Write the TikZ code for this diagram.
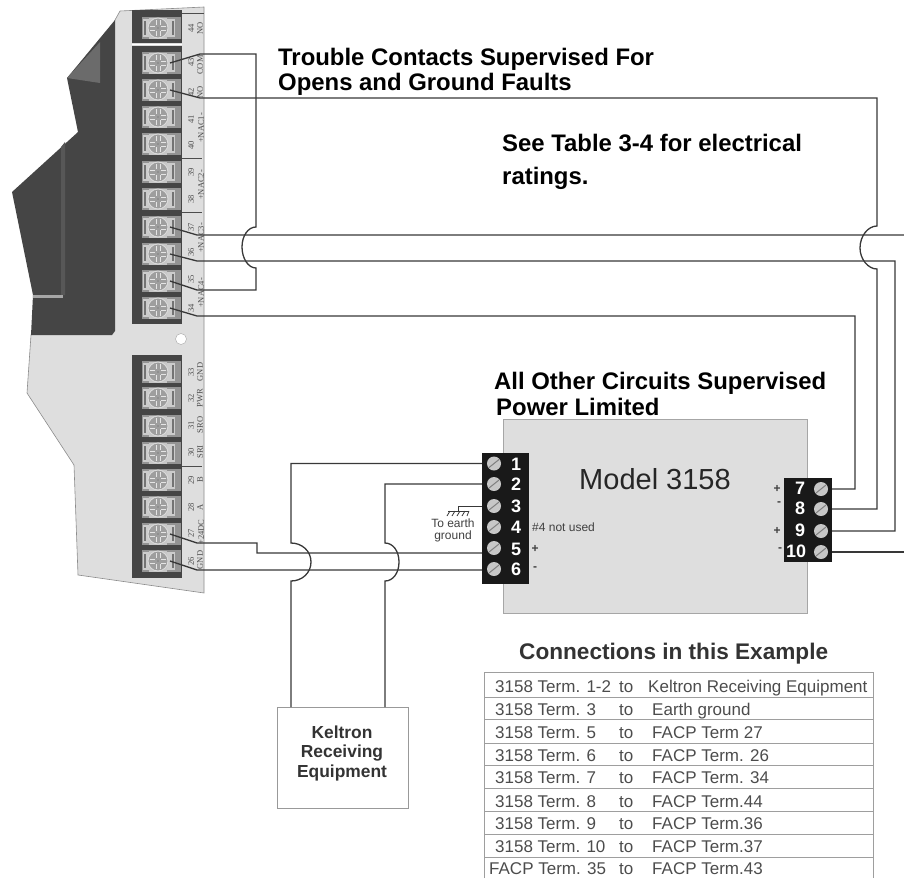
\documentclass[tikz,border=0pt]{standalone}
\usepackage{fontspec}
\setmainfont{Liberation Sans}
\newfontfamily\termfont{Liberation Serif}
\usetikzlibrary{calc}
\definecolor{panelgray}{gray}{0.87}
\definecolor{paneldark}{gray}{0.27}
\definecolor{wiregray}{gray}{0.22}
\definecolor{rulegray}{gray}{0.62}
\definecolor{tablegray}{gray}{0.30}
\tikzset{
	wire/.style={line width=1.3pt, color=wiregray},
	heading/.style={anchor=base west, inner sep=0pt, font=\fontsize{23.9}{24}\bfseries\selectfont},
	tablecell/.style={anchor=base west, inner sep=0pt, color=tablegray, font=\fontsize{17}{17}\selectfont},
	termlabel/.style={rotate=90, inner sep=0pt, color=black!70, font=\fontsize{8.5}{9}\termfont\selectfont},
	blocklabel/.style={inner sep=0pt, color=white, font=\fontsize{18}{18}\bfseries\selectfont},
	signlabel/.style={inner sep=0pt, color=black!75, font=\fontsize{12}{12}\bfseries\selectfont},
	smalllabel/.style={inner sep=0pt, color=black!75, font=\fontsize{12}{12}\selectfont, align=center}
}
\def\fterm(#1)#2{
	\begin{scope}[shift={(158,#1)}]
		\fill[black!42] (-16, -11) rectangle (23, 11);
		\fill[black!20] (-15, -9) rectangle (17, 9);
		\fill[black!55] (-14, -7) rectangle (-12, 7);
		\fill[black!55] (14, -7) rectangle (16, 7);
		\fill[black!22] (-9, -10.5) rectangle (9, 10.5);
		\draw[fill=black!38, draw=black!14, line width=0.9pt] (0, 0) circle (10);
		\draw[line width=0.9pt, color=black!10] (-8, -2) -- (-3, -2) (-8, 2) -- (-3, 2) (3, -2) -- (8, -2) (3, 2) -- (8, 2) (-2, -8) -- (-2, -3) (2, -8) -- (2, -3) (-2, 3) -- (-2, 8) (2, 3) -- (2, 8);
		\fill[black!50] (0, 0) circle (0.9);
		\coordinate (#2) at (12, 0);
	\end{scope}
}
\def\blockscrew(#1,#2)#3{
	\draw[fill=black!22, draw=none] (#1, #2) circle (7);
	\draw[line width=1pt, color=black!50] ($(#1, #2)+(-5, 4)$) -- ($(#1, #2)+(5, -4)$);
	\coordinate (#3) at (#1, #2);
}
\def\connrow(#1)#2#3#4#5{
	\node[tablecell] (row#1a) at (#2, #1) {#3};
	\node[tablecell] (row#1b) at (619, #1) {to};
	\node[tablecell] (row#1c) at (#4, #1) {#5};
}

\begin{document}
\begin{tikzpicture}[x=1pt, y=-1pt]
		%%%%% START %%%%%
		\useasboundingbox (0, 0) rectangle (904, 878);

		% panel
		\draw[fill=panelgray, draw=black!45, line width=0.6pt] (120, 11) -- (204, 7) -- (204, 593) -- (78, 575) -- (74, 465) -- (27, 393) -- (31, 335) -- (115, 20) -- cycle;
		\fill[paneldark] (115, 20) -- (67, 78) -- (78, 132) -- (12, 192) -- (33, 295) -- (31, 335) -- (112, 335) -- (115, 331) -- cycle;
		\fill[black!58] (100, 42) -- (67, 78) -- (100, 83) -- cycle;
		\fill[black!66] (61, 147) -- (65, 142) -- (65, 295) -- (61, 295) -- cycle;
		\fill[black!35] (33, 295) rectangle (63, 298);
		\draw[fill=white, draw=black!35] (181, 339) circle (5.5);

		% terminal strips
		\fill[paneldark] (132, 10) rectangle (182, 43);
		\fill[paneldark] (132, 46) rectangle (182, 324);
		\fill[paneldark] (132, 355) rectangle (182, 578);

		\fterm(28){t44}
		\fterm(63){t43}
		\fterm(90){t42}
		\fterm(117){t41}
		\fterm(144){t40}
		\fterm(172){t39}
		\fterm(199){t38}
		\fterm(227){t37}
		\fterm(254){t36}
		\fterm(281){t35}
		\fterm(308){t34}
		\fterm(372){t33}
		\fterm(398){t32}
		\fterm(426){t31}
		\fterm(453){t30}
		\fterm(480){t29}
		\fterm(507){t28}
		\fterm(534){t27}
		\fterm(561){t26}

		\draw[line width=0.7pt, color=black!70] (182, 13) -- (204, 13);
		\draw[line width=0.7pt, color=black!70] (182, 158) -- (202, 158);
		\draw[line width=0.7pt, color=black!70] (182, 212) -- (202, 212);
		\draw[line width=0.7pt, color=black!70] (182, 466) -- (202, 466);
		\draw[line width=1pt, color=white] (132, 44.5) -- (182, 44.5);

		% terminal numbers and names
		\node[termlabel] (n44) at (191, 28) {44};
		\node[termlabel] (n43) at (191, 62) {43};
		\node[termlabel] (n42) at (191, 92) {42};
		\node[termlabel] (n41) at (191, 119) {41};
		\node[termlabel] (n40) at (191, 145) {40};
		\node[termlabel] (n39) at (191, 172) {39};
		\node[termlabel] (n38) at (191, 199) {38};
		\node[termlabel] (n37) at (191, 227) {37};
		\node[termlabel] (n36) at (191, 252) {36};
		\node[termlabel] (n35) at (191, 279) {35};
		\node[termlabel] (n34) at (191, 308) {34};
		\node[termlabel] (n33) at (191, 372) {33};
		\node[termlabel] (n32) at (191, 398) {32};
		\node[termlabel] (n31) at (191, 425) {31};
		\node[termlabel] (n30) at (191, 452) {30};
		\node[termlabel] (n29) at (191, 480) {29};
		\node[termlabel] (n28) at (191, 507) {28};
		\node[termlabel] (n27) at (191, 533) {27};
		\node[termlabel] (n26) at (191, 561) {26};
		\node[termlabel] (s44) at (200, 28) {NO};
		\node[termlabel] (s43) at (200, 65) {COM};
		\node[termlabel] (s42) at (200, 92) {NO};
		\node[termlabel] (s41) at (201, 128) {+NAC1-};
		\node[termlabel] (s39) at (201, 185) {+NAC2-};
		\node[termlabel] (s37) at (201, 238) {+NAC3-};
		\node[termlabel] (s35) at (201, 293) {+NAC4-};
		\node[termlabel] (s33) at (200, 372) {GND};
		\node[termlabel] (s32) at (200, 398) {PWR};
		\node[termlabel] (s31) at (200, 425) {SRO};
		\node[termlabel] (s30) at (200, 452) {SRI};
		\node[termlabel] (s29) at (200, 480) {B};
		\node[termlabel] (s28) at (200, 507) {A};
		\node[termlabel] (s27) at (201, 532) {+24DC};
		\node[termlabel] (s26) at (200, 560) {GND};

		% model 3158
		\draw[fill=black!13, draw=black!35, line width=0.8pt] (503, 419) rectangle (807, 613);
		\node[inner sep=0pt, color=black!85, font=\fontsize{29}{29}\selectfont] (model) at (655, 479) {Model 3158};

		% keltron
		\draw[draw=black!40, line width=1pt] (277, 707) rectangle (408, 808);
		\node[inner sep=0pt, align=center, color=black!80, font=\fontsize{17.4}{19.5}\bfseries\selectfont] (keltron) at (342, 753) {Keltron\\Receiving\\Equipment};
		\coordinate (k1) at (291, 707);
		\coordinate (k2) at (385, 707);

		% block coordinates
		\coordinate (a1) at (494, 463.5);
		\coordinate (a2) at (494, 484);
		\coordinate (a3) at (494, 506);
		\coordinate (a5) at (494, 553);
		\coordinate (a6) at (494, 570);
		\coordinate (b7) at (821, 489);
		\coordinate (b8) at (821, 509);
		\coordinate (b9) at (821, 531);
		\coordinate (b10) at (821, 552);
		\coordinate (edge) at (904, 235);
		\coordinate (edgeb) at (904, 552);
		\coordinate (earth) at (458, 511);

		% wires
		\draw[wire] (t43) -- (200, 54) -- (256, 54) -- (256, 227) .. controls +(-8, 0) and +(0, -11) .. (242, 247) .. controls +(0, 11) and +(-8, 0) .. (256, 268) -- (256, 290) -- (197, 290) -- (t35);
		\draw[wire] (t42) -- (200, 98) -- (877, 98) -- (877, 226) .. controls +(-9, 0) and +(0, -12) .. (860, 248) .. controls +(0, 11) and +(-9, 0) .. (877, 269) -- (877, 509) -- (b8);
		\draw[wire] (t37) -- (197, 235) -- (edge);
		\draw[wire] (t36) -- (197, 261) -- (895, 261) -- (895, 531) -- (b9);
		\draw[wire] (t34) -- (197, 316) -- (855, 316) -- (855, 489) -- (b7);
		\draw[wire] (b10) -- (edgeb);
		\draw[wire] (t27) -- (197, 543) -- (257, 543) -- (257, 553) -- (a5);
		\draw[wire] (t26) -- (197, 570) -- (a6);
		\draw[wire] (a1) -- (291, 463.5) -- (291, 543) .. controls +(11, 0) and +(0, -11) .. (311, 562) .. controls +(0, 11) and +(11, 0) .. (291, 581) -- (k1);
		\draw[wire] (a2) -- (385, 484) -- (385, 543) .. controls +(8, 0) and +(0, -11) .. (399, 562) .. controls +(0, 11) and +(8, 0) .. (385, 581) -- (k2);
		\draw[wire, line width=0.8pt] (a3) -- (458, 506) -- (earth);
		\draw[line width=0.8pt, color=wiregray] (448, 511) -- (469, 511);
		\draw[line width=0.8pt, color=wiregray] (450, 511) -- (447, 516) (455, 511) -- (452, 516) (460, 511) -- (457, 516) (465, 511) -- (462, 516) (469, 511) -- (467, 516);

		% screw blocks
		\fill[black!90] (482, 453) rectangle (529, 584);
		\fill[black!90] (784, 478) rectangle (832, 562);
		\blockscrew(494, 463.5){p1}
		\blockscrew(494, 484){p2}
		\blockscrew(494, 506){p3}
		\blockscrew(494, 527){p4}
		\blockscrew(494, 548){p5}
		\blockscrew(494, 569){p6}
		\blockscrew(821, 489){p7}
		\blockscrew(821, 509){p8}
		\blockscrew(821, 531){p9}
		\blockscrew(821, 552){p10}
		\node[blocklabel] (l1) at (516, 464) {1};
		\node[blocklabel] (l2) at (516, 484) {2};
		\node[blocklabel] (l3) at (516, 506) {3};
		\node[blocklabel] (l4) at (516, 527) {4};
		\node[blocklabel] (l5) at (516, 549) {5};
		\node[blocklabel] (l6) at (516, 569) {6};
		\node[blocklabel] (l7) at (800, 488) {7};
		\node[blocklabel] (l8) at (800, 508) {8};
		\node[blocklabel] (l9) at (800, 530) {9};
		\node[blocklabel] (l10) at (796, 551) {10};

		\node[signlabel] (plus5) at (535, 549) {+};
		\node[signlabel] (minus6) at (535, 569) {-};
		\node[signlabel] (plus7) at (777, 489) {+};
		\node[signlabel] (minus8) at (779, 504) {-};
		\node[signlabel] (plus9) at (777, 531) {+};
		\node[signlabel] (minus10) at (780, 550) {-};
		\node[smalllabel, anchor=west] (unused) at (532, 527) {\#4 not used};
		\node[smalllabel] (togrnd) at (453, 530) {To earth\\ground};

		% headings
		\node[heading] (trouble) at (278, 65) {Trouble Contacts Supervised For};
		\node[heading] (opens) at (278, 90) {Opens and Ground Faults};
		\node[heading] (see) at (502, 151) {See Table 3-4 for electrical};
		\node[heading] (ratings) at (502, 184) {ratings.};
		\node[heading] (other) at (494, 389) {All Other Circuits Supervised};
		\node[heading] (limited) at (496, 415) {Power Limited};
		\node[heading, color=black!80, font=\fontsize{22.6}{23}\bfseries\selectfont] (connections) at (519, 659) {Connections in this Example};

		% table
		\draw[draw=rulegray, line width=0.9pt] (484, 672) -- (873, 672) -- (873, 878) (484, 878) -- (484, 672);
		\draw[draw=rulegray, line width=0.9pt] (484, 697) -- (873, 697);
		\draw[draw=rulegray, line width=0.9pt] (484, 719) -- (873, 719);
		\draw[draw=rulegray, line width=0.9pt] (484, 743) -- (873, 743);
		\draw[draw=rulegray, line width=0.9pt] (484, 765) -- (873, 765);
		\draw[draw=rulegray, line width=0.9pt] (484, 788) -- (873, 788);
		\draw[draw=rulegray, line width=0.9pt] (484, 811) -- (873, 811);
		\draw[draw=rulegray, line width=0.9pt] (484, 834) -- (873, 834);
		\draw[draw=rulegray, line width=0.9pt] (484, 857) -- (873, 857);

		\connrow(692){495}{3158 Term. 1-2}{648}{Keltron Receiving Equipment}
		\connrow(715){495}{3158 Term. 3}{652}{Earth ground}
		\connrow(738){495}{3158 Term. 5}{652}{FACP Term 27}
		\connrow(761){495}{3158 Term. 6}{652}{FACP Term. 26}
		\connrow(783){495}{3158 Term. 7}{652}{FACP Term. 34}
		\connrow(807){495}{3158 Term. 8}{652}{FACP Term.44}
		\connrow(829){495}{3158 Term. 9}{652}{FACP Term.36}
		\connrow(852){495}{3158 Term. 10}{652}{FACP Term.37}
		\connrow(874){489}{FACP Term. 35}{652}{FACP Term.43}

		%%%%% END %%%%%
	\end{tikzpicture}
\end{document}
